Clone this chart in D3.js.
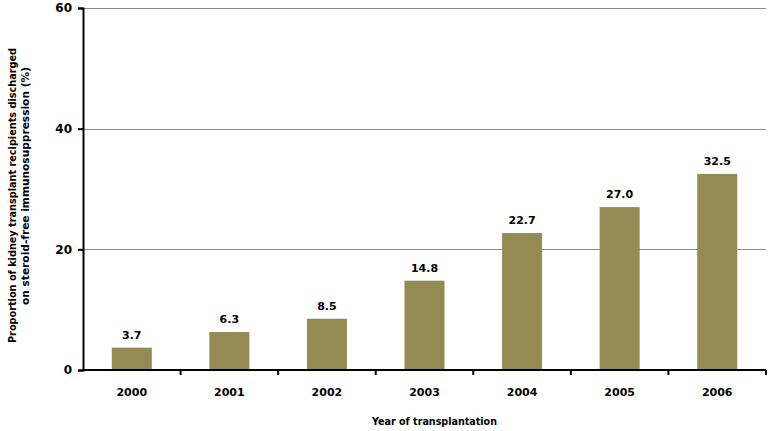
<!DOCTYPE html>
<html>
<head>
<meta charset="utf-8">
<script src="https://cdn.jsdelivr.net/npm/d3@7"></script>
<style>
  body { margin: 0; background: #fff; }
  text { font-family: "DejaVu Sans", sans-serif; font-weight: bold; fill: #000; }
</style>
</head>
<body>
<script>
const years = ["2000", "2001", "2002", "2003", "2004", "2005", "2006"];
const values = [3.7, 6.3, 8.5, 14.8, 22.7, 27.0, 32.5];
const yTicks = [0, 20, 40, 60];

const margin = {top: 8, right: 6, bottom: 61, left: 83};
const width = 772 - margin.left - margin.right;
const height = 431 - margin.top - margin.bottom;

const svg = d3.select("body").append("svg")
  .attr("width", 772)
  .attr("height", 431)
  .append("g")
  .attr("transform", `translate(${margin.left}, ${margin.top})`);

const x = d3.scaleBand()
  .domain(years)
  .range([0, width])
  .paddingInner(0.59)
  .paddingOuter(0.295);

const y = d3.scaleLinear()
  .domain([0, 60])
  .range([height, 0]);

// gridlines
svg.append("g").selectAll("line")
  .data(yTicks.filter(d => d > 0))
  .enter().append("line")
    .attr("x1", 0)
    .attr("x2", width)
    .attr("y1", d => Math.round(y(d)) + 0.5)
    .attr("y2", d => Math.round(y(d)) + 0.5)
    .attr("stroke", "#8c8c8c")
    .attr("stroke-width", 1);

// bars
svg.append("g").selectAll("rect")
  .data(values)
  .enter().append("rect")
    .attr("x", (d, i) => x(years[i]))
    .attr("y", d => y(d))
    .attr("width", x.bandwidth())
    .attr("height", d => height - y(d))
    .attr("fill", "#948a54");

// value labels
svg.append("g").selectAll("text")
  .data(values)
  .enter().append("text")
    .attr("x", (d, i) => x(years[i]) + x.bandwidth() / 2)
    .attr("y", d => y(d) - 9)
    .attr("text-anchor", "middle")
    .attr("font-size", "11px")
    .text(d => d.toFixed(1));

// y axis
const yAxis = svg.append("g")
  .call(d3.axisLeft(y).tickValues(yTicks).tickSize(5).tickPadding(6));
yAxis.select(".domain").attr("stroke", "#000").attr("stroke-width", 2);
yAxis.selectAll(".tick line").attr("stroke", "#000").attr("stroke-width", 2);
yAxis.selectAll(".tick text")
  .attr("font-size", "12px")
  .attr("font-family", "DejaVu Sans, sans-serif")
  .attr("font-weight", "bold");

// x axis, ticks at band boundaries
const xAxis = svg.append("g")
  .attr("transform", `translate(0, ${height})`);
xAxis.append("line")
  .attr("x1", 0).attr("x2", width)
  .attr("stroke", "#000").attr("stroke-width", 2);
xAxis.selectAll(".xtick")
  .data(years)
  .enter().append("line")
    .attr("class", "xtick")
    .attr("x1", d => x(d) + x.bandwidth() / 2 + x.step() / 2)
    .attr("x2", d => x(d) + x.bandwidth() / 2 + x.step() / 2)
    .attr("y1", 0).attr("y2", 5)
    .attr("stroke", "#000").attr("stroke-width", 2);
xAxis.selectAll(".xlabel")
  .data(years)
  .enter().append("text")
    .attr("class", "xlabel")
    .attr("x", d => x(d) + x.bandwidth() / 2)
    .attr("y", 26)
    .attr("text-anchor", "middle")
    .attr("font-size", "11px")
    .text(d => d);

// axis titles
svg.append("text")
  .attr("x", 372 - margin.left)
  .attr("y", height + 55)
  .attr("font-size", "11px")
  .attr("textLength", 125)
  .attr("lengthAdjust", "spacingAndGlyphs")
  .text("Year of transplantation");

// y title: two lines, placed by their own extents
svg.append("text")
  .attr("transform", `translate(${16 - margin.left}, ${343 - margin.top}) rotate(-90)`)
  .attr("font-size", "11px")
  .attr("textLength", 295)
  .attr("lengthAdjust", "spacingAndGlyphs")
  .text("Proportion of kidney transplant recipients discharged");
svg.append("text")
  .attr("transform", `translate(${29 - margin.left}, ${305 - margin.top}) rotate(-90)`)
  .attr("font-size", "11px")
  .attr("textLength", 238)
  .attr("lengthAdjust", "spacingAndGlyphs")
  .text("on steroid-free immunosuppression  (%)");
</script>
</body>
</html>
